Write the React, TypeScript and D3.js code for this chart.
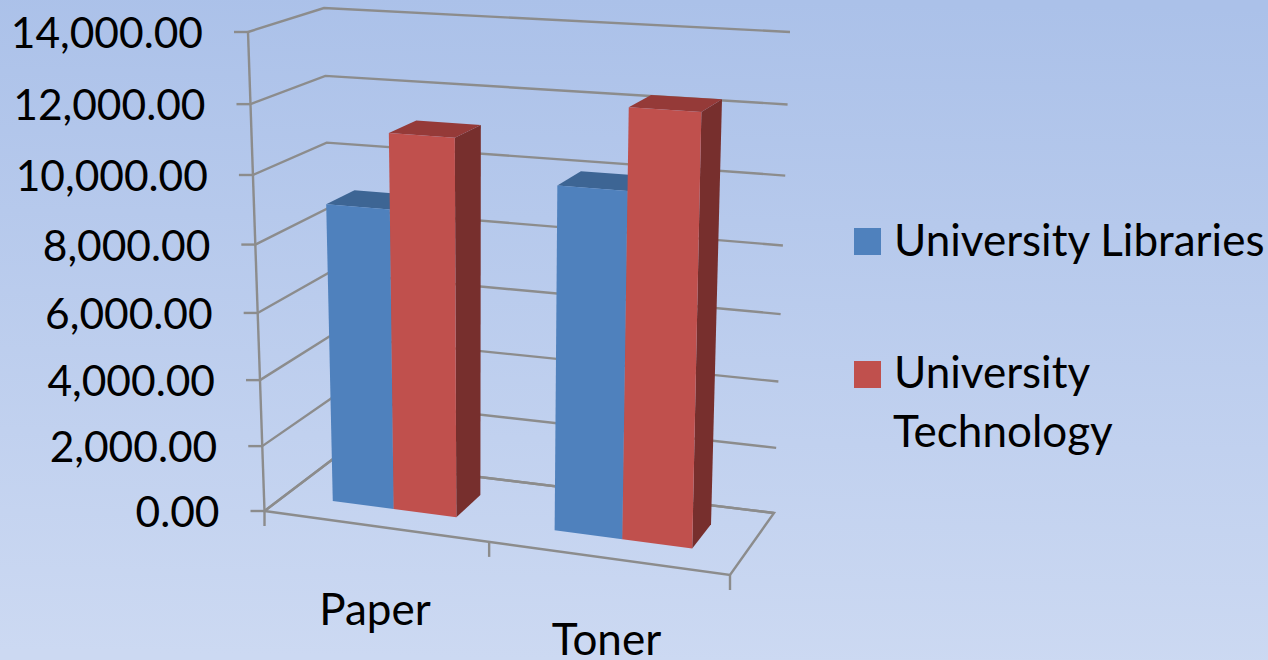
import React from "react";
import * as d3 from "d3";

// ---- data ----
const categories = ["Paper", "Toner"];
const seriesNames = ["University Libraries", "University Technology"];
const libraries = [8970, 10030];
const technology = [11150, 12310];
const yTicks = [0, 2000, 4000, 6000, 8000, 10000, 12000, 14000];

// ---- frame of the 3D box: [u along categories, z into depth] corners of floor and ceiling ----
type P = [number, number];
const floorQuad: P[] = [[264.5, 511], [730, 575], [774, 513], [333, 459]]; // FL FR BR BL
const ceilQuad: P[] = [[248, 32], [741, 60], [790, 32], [324, 8]];

function homography(q: P[]) {
  const [p0, p1, p2, p3] = q;
  const dx1 = p1[0] - p2[0], dx2 = p3[0] - p2[0], sx = p0[0] - p1[0] + p2[0] - p3[0];
  const dy1 = p1[1] - p2[1], dy2 = p3[1] - p2[1], sy = p0[1] - p1[1] + p2[1] - p3[1];
  const den = dx1 * dy2 - dx2 * dy1;
  const g = (sx * dy2 - dx2 * sy) / den;
  const h = (dx1 * sy - sx * dy1) / den;
  const a = p1[0] - p0[0] + g * p1[0], b = p3[0] - p0[0] + h * p3[0], c = p0[0];
  const d = p1[1] - p0[1] + g * p1[1], e = p3[1] - p0[1] + h * p3[1], f = p0[1];
  return (u: number, z: number): P => {
    const w = g * u + h * z + 1;
    return [(a * u + b * z + c) / w, (d * u + e * z + f) / w];
  };
}
const floorH = homography(floorQuad);
const ceilH = homography(ceilQuad);
const yScale = d3.scaleLinear().domain([0, 14000]).range([0, 1]);
const project = (u: number, z: number, v: number): P => {
  const t = yScale(v);
  const f = (0.94 * t) / (1 - 0.06 * t);
  const A = floorH(u, z), B = ceilH(u, z);
  return [A[0] + (B[0] - A[0]) * f, A[1] + (B[1] - A[1]) * f];
};

const catScale = d3.scaleBand<string>().domain(categories).range([0.005, 1.005]).paddingInner(0.43).paddingOuter(0.215);
const serScale = d3.scaleBand<string>().domain(seriesNames).range([0, catScale.bandwidth()]);
const zFront = 0.3, zBack = 0.7;

const line = d3.line<P>();
const poly = (pts: P[]) => line(pts)! + "Z";
const fmt = d3.format(",.2f");

const GRID = "#8c8c8c";
const faces = [
  { front: "#4f81bd", top: "#3d6594", side: "#3b618f" },
  { front: "#c0504d", top: "#953a38", side: "#772f2d" },
];
const values = [libraries, technology];
const FONT = "Lato, Carlito, sans-serif";

export default function App() {
  const bars = categories.flatMap((c, ci) =>
    seriesNames.map((s, si) => {
      const u0 = catScale(c)! + serScale(s)!;
      const u1 = u0 + serScale.bandwidth();
      return { key: c + s, u0, u1, v: values[si][ci], col: faces[si] };
    })
  );
  return (
    <svg width={1268} height={660} style={{ position: "fixed", left: 0, top: 0 }}>
      <defs>
        <linearGradient id="bg" x1="0.52" y1="0" x2="0.49" y2="1">
          <stop offset="0" stopColor="#abc1e9" />
          <stop offset="1" stopColor="#ccd9f2" />
        </linearGradient>
      </defs>
      <rect width={1268} height={660} fill="url(#bg)" />
      <g fill="none" stroke={GRID} strokeWidth={2.4}>
        {yTicks.map((v) => {
          const a = project(0, 0, v), b = project(0, 1, v), c = project(1, 1, v);
          return (
            <g key={v}>
              <path d={line([a, b, c])!} />
              <path d={line([[a[0] - 14, a[1]], a])!} />
            </g>
          );
        })}
        <path d={line([project(0, 0, 0), project(0, 0, 14000)])!} />
        <path d={poly([project(0, 0, 0), project(1, 0, 0), project(1, 1, 0), project(0, 1, 0)])} />
        {[0, 0.51, 1].map((u) => {
          const p = project(u, 0, 0);
          return <path key={u} d={line([p, [p[0], p[1] + 15]])!} />;
        })}
      </g>
      {bars.map((b) => {
        const { u0, u1, v, col } = b;
        return (
          <g key={b.key}>
            <path fill={col.side} d={poly([project(u1, zFront, 0), project(u1, zBack, 0), project(u1, zBack, v), project(u1, zFront, v)])} />
            <path fill={col.top} d={poly([project(u0, zFront, v), project(u1, zFront, v), project(u1, zBack, v), project(u0, zBack, v)])} />
            <path fill={col.front} d={poly([project(u0, zFront, 0), project(u1, zFront, 0), project(u1, zFront, v), project(u0, zFront, v)])} />
          </g>
        );
      })}
      <g fontFamily={FONT} fill="#000" fontSize={44}>
        {yTicks.map((v) => {
          const p = project(0, 0, v);
          return (
            <text key={v} x={p[0] - 45} y={p[1] + 16} textAnchor="end" fontSize={42.5}>
              {fmt(v)}
            </text>
          );
        })}
        <text x={375} y={625} textAnchor="middle">{categories[0]}</text>
        <text x={606.5} y={655} textAnchor="middle">{categories[1]}</text>
        <rect x={854} y={228} width={27} height={27} fill={faces[0].front} />
        <rect x={854} y={361} width={27} height={27} fill={faces[1].front} />
        <text x={894} y={256}>{seriesNames[0]}</text>
        <text x={894} y={388}>University</text>
        <text x={893} y={447}>Technology</text>
      </g>
    </svg>
  );
}
